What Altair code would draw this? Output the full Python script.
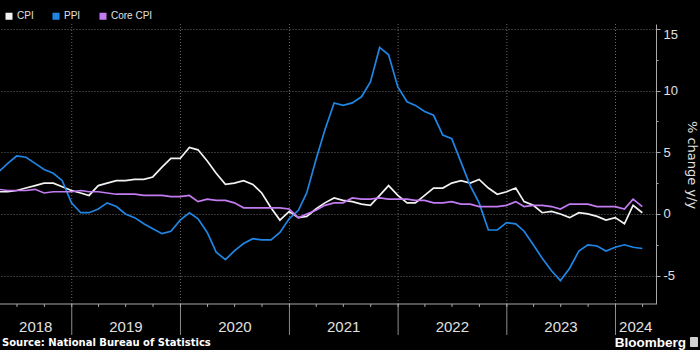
import altair as alt
import pandas as pd

# ---------------- data (China, % change y/y, monthly Apr-2018 .. Mar-2024) -------------
SERIES = ["CPI", "PPI", "Core CPI"]
COLORS = ["#f2f2f2", "#1f86e6", "#c27bf0"]

cpi = [1.8, 1.8, 1.9, 2.1, 2.3, 2.5, 2.5, 2.2, 1.9,
       1.7, 1.5, 2.3, 2.5, 2.7, 2.7, 2.8, 2.8, 3.0, 3.8, 4.5, 4.5,
       5.4, 5.2, 4.3, 3.3, 2.4, 2.5, 2.7, 2.4, 1.7, 0.5, -0.5, 0.2,
       -0.3, -0.2, 0.4, 0.9, 1.3, 1.1, 1.0, 0.8, 0.7, 1.5, 2.3, 1.5,
       0.9, 0.9, 1.5, 2.1, 2.1, 2.5, 2.7, 2.5, 2.8, 2.1, 1.6, 1.8,
       2.1, 1.0, 0.7, 0.1, 0.2, 0.0, -0.3, 0.1, 0.0, -0.2, -0.5, -0.3,
       -0.8, 0.7, 0.1]
ppi = [3.4, 4.1, 4.7, 4.6, 4.1, 3.6, 3.3, 2.7, 0.9,
       0.1, 0.1, 0.4, 0.9, 0.6, 0.0, -0.3, -0.8, -1.2, -1.6, -1.4, -0.5,
       0.1, -0.4, -1.5, -3.1, -3.7, -3.0, -2.4, -2.0, -2.1, -2.1, -1.5, -0.4,
       0.3, 1.7, 4.4, 6.8, 9.0, 8.8, 9.0, 9.5, 10.7, 13.5, 12.9, 10.3,
       9.1, 8.8, 8.3, 8.0, 6.4, 6.1, 4.2, 2.3, 0.9, -1.3, -1.3, -0.7,
       -0.8, -1.4, -2.5, -3.6, -4.6, -5.4, -4.4, -3.0, -2.5, -2.6, -3.0, -2.7,
       -2.5, -2.7, -2.8]
core = [2.0, 1.9, 1.9, 1.9, 2.0, 1.7, 1.8, 1.8, 1.8,
        1.9, 1.8, 1.8, 1.7, 1.6, 1.6, 1.6, 1.5, 1.5, 1.5, 1.4, 1.4,
        1.5, 1.0, 1.2, 1.1, 1.1, 0.9, 0.5, 0.5, 0.5, 0.5, 0.5, 0.4,
        -0.3, 0.0, 0.3, 0.7, 0.9, 0.9, 1.3, 1.2, 1.2, 1.3, 1.2, 1.2,
        1.2, 1.1, 1.1, 0.9, 0.9, 1.0, 0.8, 0.8, 0.6, 0.6, 0.6, 0.7,
        1.0, 0.6, 0.7, 0.7, 0.6, 0.4, 0.8, 0.8, 0.8, 0.6, 0.6, 0.6,
        0.4, 1.2, 0.6]

YEARS = [2018, 2019, 2020, 2021, 2022, 2023, 2024]
Y_TICKS = [-5, -2.5, 0, 2.5, 5, 7.5, 10, 12.5, 15]
SOURCE = "Source: National Bureau of Statistics"
Y_TITLE = "% change y/y"

X_START = "2018-05-05"
X_END = "2024-05-16"
Y_DOMAIN = [-7.30, 15.40]

# ---------------- tables ----------------
month_ends = (pd.date_range("2018-04-01", periods=len(cpi), freq="MS")
              + pd.offsets.MonthEnd(0))
dates = [d.strftime("%Y-%m-%d") for d in month_ends]
rows = []
for name, vals in zip(SERIES, [cpi, ppi, core]):
    for d, v in zip(dates, vals):
        rows.append({"date": d, "series": name, "value": v})
df = pd.DataFrame(rows)

d0, d1 = pd.Timestamp(X_START), pd.Timestamp(X_END)
year_lines = pd.DataFrame({"date": [f"{y}-01-01" for y in YEARS[1:]]})
quarters = [pd.Timestamp(f"{y}-{m:02d}-01") for y in YEARS for m in (1, 4, 7, 10)]
quarter_df = pd.DataFrame({"date": [q.strftime("%Y-%m-%d") for q in quarters if d0 <= q <= d1]})
mids = []
for y in YEARS:
    a = max(pd.Timestamp(f"{y}-01-01"), d0)
    b = min(pd.Timestamp(f"{y + 1}-01-01"), d1)
    mids.append((a + (b - a) / 2).strftime("%Y-%m-%d"))
year_lab = pd.DataFrame({"date": mids, "label": [str(y) for y in YEARS]})

# ---------------- layout ----------------
W, H = 656, 280
TOP = 24
GRID = "#6a6a6a"
AXIS = "#a8a8a8"
TXT = "#e0e0e0"
NARROW = "Liberation Sans Narrow, Arial Narrow, Liberation Sans, sans-serif"

x_scale = alt.Scale(type="utc",
                    domain=[int(d0.timestamp() * 1000), int(d1.timestamp() * 1000)])

is_major = "datum.value % 5 === 0"
y_axis = alt.Axis(
    orient="right", values=Y_TICKS, title=None,
    labelExpr=f"{is_major} ? replace(datum.label, '\u2212', '-') : ''",
    tickSize={"condition": {"test": is_major, "value": 4}, "value": 2},
    labelBaseline={"condition": {"test": "datum.value === 15", "value": "top"}, "value": "middle"},
    grid=True, gridDash=[1, 2], gridColor=GRID, gridWidth=1,
    gridOpacity={"condition": {"test": is_major, "value": 1}, "value": 0},
    domainColor=AXIS, tickColor=AXIS, labelColor=TXT,
    labelFont=NARROW, labelFontSize=13, labelPadding=3,
)

lines = alt.Chart(df).mark_line(strokeWidth=1.7, clip=True).encode(
    x=alt.X("date:T", scale=x_scale, axis=None),
    y=alt.Y("value:Q", scale=alt.Scale(domain=Y_DOMAIN, nice=False, zero=False), axis=y_axis),
    color=alt.Color("series:N", sort=SERIES,
                    scale=alt.Scale(domain=SERIES, range=COLORS),
                    legend=alt.Legend(orient="none", legendX=4, legendY=-13,
                                      direction="horizontal", title=None,
                                      symbolType="square", symbolSize=9,
                                      symbolStrokeWidth=4, labelOffset=3,
                                      columnPadding=12, padding=0,
                                      labelFont="Liberation Sans", labelFontSize=10,
                                      labelColor=TXT)),
    order=alt.Order("series:N"),
)

vgrid = alt.Chart(year_lines).mark_rule(color=GRID, strokeDash=[1, 2], strokeWidth=1).encode(
    x=alt.X("date:T", scale=x_scale, axis=None), y=alt.value(0), y2=alt.value(H))
seps = alt.Chart(year_lines).mark_rule(color="#8c8c8c", strokeWidth=1).encode(
    x=alt.X("date:T", scale=x_scale, axis=None), y=alt.value(H), y2=alt.value(H + 31))
qticks = alt.Chart(quarter_df).mark_rule(color=AXIS, strokeWidth=1).encode(
    x=alt.X("date:T", scale=x_scale, axis=None), y=alt.value(H), y2=alt.value(H + 3))
baseline = alt.Chart(pd.DataFrame({"a": [0]})).mark_rule(color=AXIS, strokeWidth=1).encode(
    x=alt.value(0), x2=alt.value(W), y=alt.value(H))
ylabels = alt.Chart(year_lab).mark_text(font=NARROW, fontSize=15, color=TXT,
                                        baseline="middle", align="center").encode(
    x=alt.X("date:T", scale=x_scale, axis=None), y=alt.value(H + 22.5), text="label:N")

ytitle = alt.Chart(pd.DataFrame({"t": [Y_TITLE]})).mark_text(
    font="DejaVu Sans", fontSize=13, color=TXT, angle=90, align="center", baseline="middle"
).encode(x=alt.value(692), y=alt.value(141), text="t:N")
source = alt.Chart(pd.DataFrame({"t": [SOURCE]})).mark_text(
    font="DejaVu Sans", fontSize=10, fontWeight="bold", color="#ffffff",
    align="left", baseline="middle"
).encode(x=alt.value(2), y=alt.value(318.5), text="t:N")
brand = alt.Chart(pd.DataFrame({"t": ["Bloomberg"]})).mark_text(
    font="Liberation Sans", fontSize=13.5, fontWeight="bold", color="#ffffff",
    align="right", baseline="middle"
).encode(x=alt.value(686), y=alt.value(318.5), text="t:N")
icon = alt.Chart(pd.DataFrame({"a": [0]})).mark_rect(color="#d0d0d0", cornerRadius=1).encode(
    x=alt.value(690), x2=alt.value(698), y=alt.value(313), y2=alt.value(323))

chart = alt.layer(vgrid, seps, qticks, baseline, lines, ylabels, ytitle, source, brand, icon).properties(
    width=W, height=H,
    padding={"left": 0, "top": TOP, "right": 44, "bottom": 46},
    autosize=alt.AutoSizeParams(type="none"),
    background="#000000",
).configure_view(stroke=None)

chart.save("out.html", embed_options={"renderer": "svg", "actions": False})
